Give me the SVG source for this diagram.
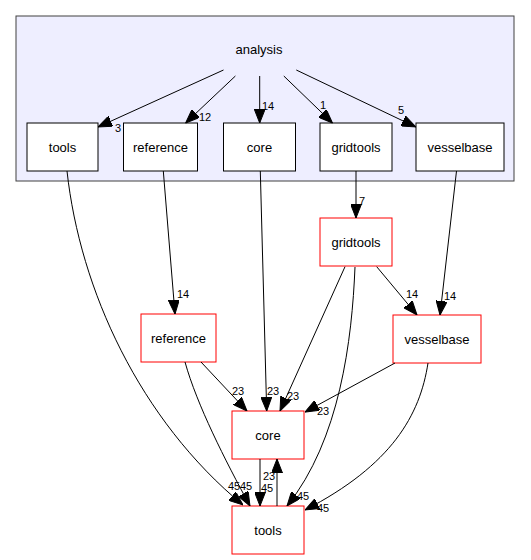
<svg xmlns="http://www.w3.org/2000/svg" width="531" height="560" viewBox="0 0 531 560">
<style>
text{font-family:"Liberation Sans",Arial,sans-serif;fill:#000}
.nl{font-size:13px;text-anchor:middle}
.el{font-size:11px}
.inner{fill:#fff;stroke:#000;stroke-width:1}
.outer{fill:#fff;stroke:#ff0000;stroke-width:1}
.e{fill:none;stroke:#000;stroke-width:1;marker-end:url(#ah)}
</style>
<defs>
<marker id="ah" markerUnits="userSpaceOnUse" viewBox="0 0 14 11" refX="14" refY="5.5" markerWidth="14" markerHeight="11" orient="auto">
<path d="M0,0 L14,5.5 L0,11 z" fill="#000" stroke="#000" stroke-width="1"/>
</marker>
</defs>
<rect width="531" height="560" fill="#fff"/>
<g id="cluster_analysis">
<rect x="16" y="16" width="498" height="165" fill="#eeeeff" stroke="#404040" stroke-width="1"/>
<text class="nl" x="259" y="54">analysis</text>
</g>
<g id="node_analysis_tools"><rect class="inner" x="27" y="123" width="71" height="48"/><text class="nl" x="62.5" y="151.5">tools</text></g>
<g id="node_analysis_reference"><rect class="inner" x="123.5" y="123" width="74" height="48"/><text class="nl" x="160.5" y="151.5">reference</text></g>
<g id="node_analysis_core"><rect class="inner" x="223.5" y="123" width="72" height="48"/><text class="nl" x="259.5" y="151.5">core</text></g>
<g id="node_analysis_gridtools"><rect class="inner" x="320" y="123" width="72" height="48"/><text class="nl" x="356" y="151.5">gridtools</text></g>
<g id="node_analysis_vesselbase"><rect class="inner" x="416" y="123" width="88" height="48"/><text class="nl" x="460" y="151.5">vesselbase</text></g>
<g id="node_gridtools"><rect class="outer" x="320" y="218" width="72" height="48"/><text class="nl" x="356" y="246.5">gridtools</text></g>
<g id="node_vesselbase"><rect class="outer" x="393" y="315" width="88" height="48"/><text class="nl" x="437" y="343.5">vesselbase</text></g>
<g id="node_reference"><rect class="outer" x="141" y="314" width="75" height="48"/><text class="nl" x="178.5" y="342.5">reference</text></g>
<g id="node_core"><rect class="outer" x="232" y="411" width="72" height="48"/><text class="nl" x="268" y="439.5">core</text></g>
<g id="node_tools"><rect class="outer" x="232" y="506" width="72" height="48"/><text class="nl" x="268" y="534.5">tools</text></g>
<g id="connectors">
<path class="e" d="M223.5,70 L98,127"/>
<text class="el" x="115" y="132">3</text>
<path class="e" d="M235.4,76 L185.6,123"/>
<text class="el" x="199" y="121">12</text>
<path class="e" d="M259.7,76 L259.7,123"/>
<text class="el" x="262" y="110">14</text>
<path class="e" d="M283.8,76 L332.5,123"/>
<text class="el" x="320" y="109">1</text>
<path class="e" d="M296.3,70 L415.8,127"/>
<text class="el" x="398" y="114">5</text>
<path class="e" d="M356,171 L356,218"/>
<text class="el" x="359" y="205">7</text>
<path class="e" d="M163.3,171 L175,314"/>
<text class="el" x="177" y="298">14</text>
<path class="e" d="M260.3,171 L266.7,411"/>
<text class="el" x="267" y="395">23</text>
<path class="e" d="M456.5,171 L440,315"/>
<text class="el" x="444" y="300">14</text>
<path class="e" d="M376.7,266.7 L417,315"/>
<text class="el" x="406" y="298">14</text>
<path class="e" d="M345,266.7 L280,411"/>
<text class="el" x="287" y="400">23</text>
<path class="e" d="M355,267 C352,340 340,440 287,506"/>
<text class="el" x="297" y="500">45</text>
<path class="e" d="M395,363 L305,412"/>
<text class="el" x="317" y="415">23</text>
<path class="e" d="M428,363 C420,415 392,465 305,510"/>
<text class="el" x="317" y="512">45</text>
<path class="e" d="M201,362 L247,411"/>
<text class="el" x="232" y="395">23</text>
<path class="e" d="M185,362 C197,405 225,460 250,506"/>
<text class="el" x="240" y="490">45</text>
<path class="e" d="M67,171 C80,290 140,420 243,505"/>
<text class="el" x="228" y="490">45</text>
<path class="e" d="M260,459 L260,506"/>
<text class="el" x="261" y="492">45</text>
<path class="e" d="M277,506 L277,459"/>
<text class="el" x="263" y="480">23</text>
</g>
</svg>
